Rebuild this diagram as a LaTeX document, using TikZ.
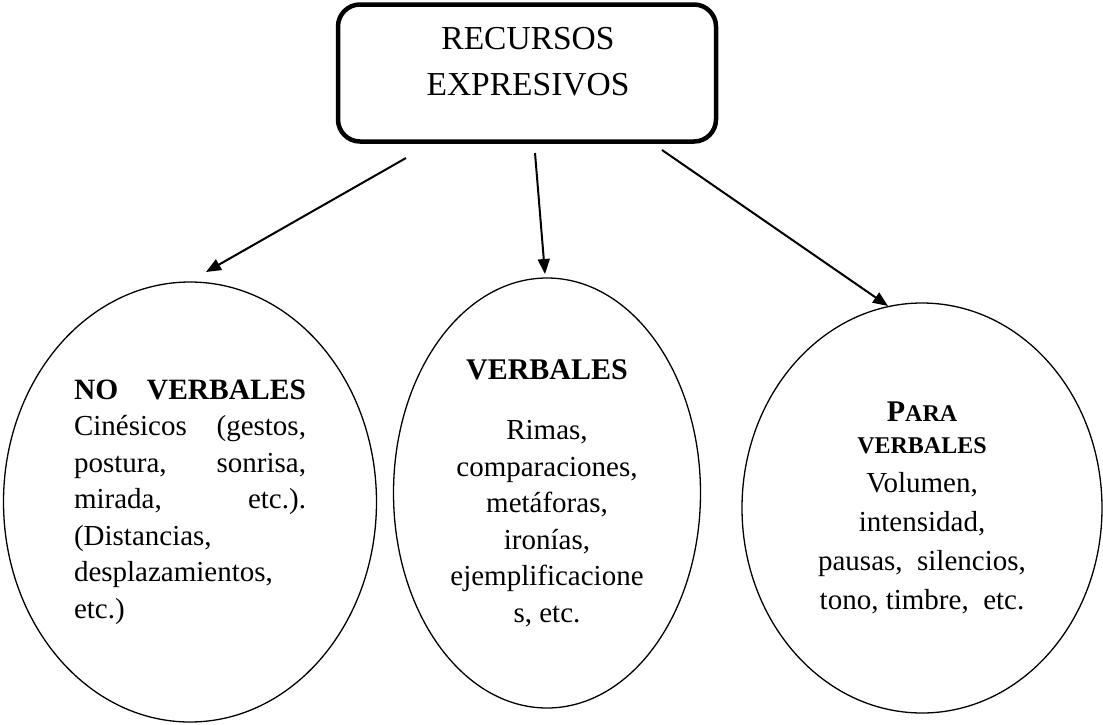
\documentclass[tikz,border=0pt]{standalone}
\usepackage{fontspec}
\setmainfont{Liberation Serif}
\usetikzlibrary{arrows.meta,shapes.geometric}
\tikzset{
  topbox/.style={draw, line width=4.5pt, rounded corners=22pt, minimum width=378pt, minimum height=137pt, inner sep=0pt},
  oval/.style={draw, ellipse, line width=1.3pt, inner sep=0pt, font=\fontsize{29}{36.5}\selectfont},
  arr/.style={line width=2pt, -{Triangle[length=15pt,width=12pt]}},
}
\begin{document}
\begin{tikzpicture}[x=1pt,y=-1pt]
\useasboundingbox (0,0) rectangle (1103,724);
\node[topbox] (top) at (527,73) {};
\node[align=center, font=\fontsize{33.5}{46}\selectfont] (toptxt) at (528,62) {RECURSOS\\EXPRESIVOS};

\node[oval, minimum width=373pt, minimum height=440pt] (nover) at (190,502)
 {\parbox{232pt}{\fontsize{29}{36.5}\selectfont{\bfseries\fontsize{29.5}{36.5}\selectfont NO\hfill VERBALES}\\
 Cinésicos\hfill(gestos,\\ postura,\hfill sonrisa,\\ mirada,\hfill etc.).\\ (Distancias,\\ desplazamientos,\\ etc.)}};

\node[oval, minimum width=307pt, minimum height=430pt, align=center] (verb) at (547,493)
 {{\bfseries\fontsize{30}{36}\selectfont VERBALES}\\[24pt] Rimas,\\ comparaciones,\\ metáforas,\\ ironías,\\ ejemplificacione\\ s, etc.};

\node[oval, minimum width=360pt, minimum height=410pt, align=center, font=\fontsize{29}{39}\selectfont] (para) at (922,508)
 {{\bfseries\fontsize{30}{32}\selectfont P\fontsize{24}{32}\selectfont ARA}\\[-7pt]
  {\bfseries\fontsize{24}{32}\selectfont VERBALES}\\ Volumen,\\ intensidad,\\ pausas,\ \ silencios,\\ tono, timbre,\ \ etc.};

\coordinate (s1) at (406,158);
\coordinate (s2) at (535,153);
\coordinate (s3) at (662,150);
\coordinate (e1) at (206,272);
\coordinate (e2) at (545,274);
\coordinate (e3) at (888,306);
\draw[arr] (s1) -- (e1);
\draw[arr] (s2) -- (e2);
\draw[arr] (s3) -- (e3);
\end{tikzpicture}
\end{document}
